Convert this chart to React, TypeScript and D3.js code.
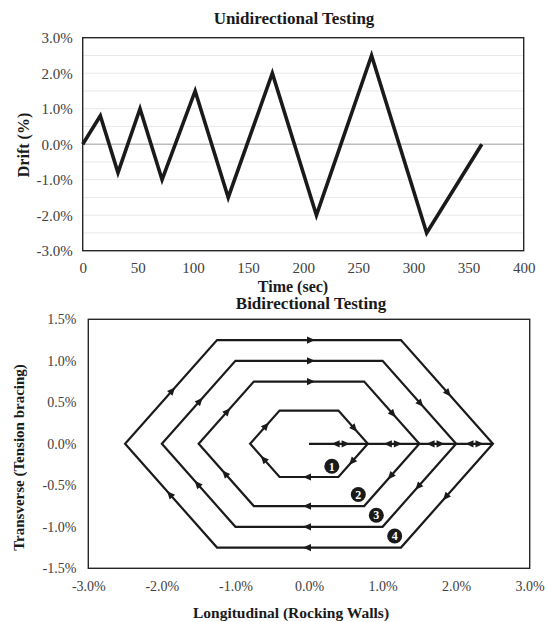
import React, { useRef, useEffect } from "react";
import * as d3 from "d3";

// unidirectional protocol
const timeSec = [0, 16, 32, 52, 72, 102, 132, 172, 212, 262, 312, 362];
const driftPct = [0, 0.8, -0.8, 1.0, -1.0, 1.5, -1.5, 2.0, -2.0, 2.5, -2.5, 0];
const timeTicks = [0, 50, 100, 150, 200, 250, 300, 350, 400];
const driftTicks = [-3, -2, -1, 0, 1, 2, 3];
const driftGrid = [-2.5, -2, -1.5, -1, -0.5, 0.5, 1, 1.5, 2, 2.5];

// bidirectional protocol (hexagonal loops)
const loopLong = [0.8, 1.5, 2.0, 2.5];
const loopTrans = [0.4, 0.75, 1.0, 1.25];
const loopNames = ["1", "2", "3", "4"];
const loopLabelLong = [0.31, 0.67, 0.915, 1.165];
const loopLabelTrans = [-0.27, -0.61, -0.86, -1.11];
// which edges of each loop carry a direction arrow (0 = lower right, going round)
const loopArrowEdges = [
  [0, 1, 2, 3, 5],
  [0, 1, 2, 3, 4, 5],
  [0, 1, 2, 3, 4, 5],
  [0, 1, 2, 3, 4, 5],
];
const pushPullLong = [0.43, 1.14, 1.72, 2.25];
const longTicks = [-3, -2, -1, 0, 1, 2, 3];
const transTicks = [-1.5, -1, -0.5, 0, 0.5, 1, 1.5];

const FONT = "'Liberation Serif', 'Times New Roman', serif";
const INK = "#1a1a1a";
const pct = (d: number) => d.toFixed(1) + "%";
const arrowD = "M0,0L-8,-3.6L-8,3.6Z";

const App = () => {
  const svgRef = useRef<SVGSVGElement>(null);

  useEffect(() => {
    const svg = d3.select(svgRef.current);
    svg.selectAll("*").remove();
    svg.style("font-family", FONT);

    // ---------- top chart ----------
    const x1 = d3.scaleLinear().domain([0, 400]).range([82.7, 523.7]);
    const y1 = d3.scaleLinear().domain([-3, 3]).range([250.7, 37.7]);
    const top = svg.append("g");

    top
      .selectAll(".grid")
      .data(driftGrid)
      .enter()
      .append("line")
      .attr("x1", x1(0))
      .attr("x2", x1(400))
      .attr("y1", (d) => y1(d))
      .attr("y2", (d) => y1(d))
      .attr("stroke", "#e8e8e8")
      .attr("stroke-width", 1);

    top
      .append("line")
      .attr("x1", x1(0))
      .attr("x2", x1(400))
      .attr("y1", y1(0))
      .attr("y2", y1(0))
      .attr("stroke", "#bdbdbd")
      .attr("stroke-width", 1.5);

    top
      .append("rect")
      .attr("x", x1(0))
      .attr("y", y1(3))
      .attr("width", x1(400) - x1(0))
      .attr("height", y1(-3) - y1(3))
      .attr("fill", "none")
      .attr("stroke", "#262626")
      .attr("stroke-width", 1.4);

    const line = d3
      .line<number>()
      .x((d, i) => x1(timeSec[i]))
      .y((d) => y1(d));

    top
      .append("path")
      .datum(driftPct)
      .attr("d", line)
      .attr("fill", "none")
      .attr("stroke", INK)
      .attr("stroke-width", 3.6)
      .attr("stroke-linejoin", "miter");

    const xAxis1 = top
      .append("g")
      .attr("transform", `translate(0,${y1(-3)})`)
      .call(d3.axisBottom(x1).tickValues(timeTicks).tickSize(0).tickPadding(12));
    const yAxis1 = top
      .append("g")
      .attr("transform", `translate(${x1(0)},0)`)
      .call(d3.axisLeft(y1).tickValues(driftTicks).tickSize(0).tickPadding(10).tickFormat(pct));
    [xAxis1, yAxis1].forEach((a) => {
      a.select(".domain").remove();
      a.selectAll("text")
        .attr("fill", "#404040")
        .style("font-family", FONT)
        .style("font-size", "15px");
    });

    top
      .append("text")
      .attr("x", 294)
      .attr("y", 24)
      .attr("text-anchor", "middle")
      .attr("font-weight", "bold")
      .attr("font-size", 17)
      .attr("fill", INK)
      .text("Unidirectional Testing");

    top
      .append("text")
      .attr("x", 293)
      .attr("y", 292)
      .attr("text-anchor", "middle")
      .attr("font-weight", "bold")
      .attr("font-size", 16)
      .attr("fill", INK)
      .text("Time (sec)");

    top
      .append("text")
      .attr("transform", `translate(29,145) rotate(-90)`)
      .attr("text-anchor", "middle")
      .attr("font-weight", "bold")
      .attr("font-size", 16)
      .attr("fill", INK)
      .text("Drift (%)");

    // ---------- bottom chart ----------
    const x2 = d3.scaleLinear().domain([-3, 3]).range([88.3, 529.7]);
    const y2 = d3.scaleLinear().domain([-1.5, 1.5]).range([568.3, 319.3]);
    const bot = svg.append("g");

    bot
      .append("rect")
      .attr("x", x2(-3))
      .attr("y", y2(1.5))
      .attr("width", x2(3) - x2(-3))
      .attr("height", y2(-1.5) - y2(1.5))
      .attr("fill", "none")
      .attr("stroke", "#262626")
      .attr("stroke-width", 1.4);

    const hex = (a: number, b: number) => [
      [a, 0],
      [a / 2, -b],
      [-a / 2, -b],
      [-a, 0],
      [-a / 2, b],
      [a / 2, b],
    ];

    const hexLine = d3
      .line<number[]>()
      .x((d) => x2(d[0]))
      .y((d) => y2(d[1]))
      .curve(d3.curveLinearClosed);

    const drawArrow = (px: number, py: number, ang: number) => {
      bot
        .append("path")
        .attr("d", arrowD)
        .attr("fill", INK)
        .attr("transform", `translate(${px},${py}) rotate(${ang})`);
    };

    // push-pull line along the longitudinal axis
    bot
      .append("line")
      .attr("x1", x2(0))
      .attr("x2", x2(loopLong[loopLong.length - 1]))
      .attr("y1", y2(0))
      .attr("y2", y2(0))
      .attr("stroke", INK)
      .attr("stroke-width", 2.2);

    loopLong.forEach((a, k) => {
      const pts = hex(a, loopTrans[k]);
      bot
        .append("path")
        .datum(pts)
        .attr("d", hexLine)
        .attr("fill", "none")
        .attr("stroke", INK)
        .attr("stroke-width", 2.2)
        .attr("stroke-linejoin", "miter");

      loopArrowEdges[k].forEach((e) => {
        const p = pts[e];
        const q = pts[(e + 1) % pts.length];
        const px0 = x2(p[0]), py0 = y2(p[1]);
        const px1 = x2(q[0]), py1 = y2(q[1]);
        const ang = Math.atan2(py1 - py0, px1 - px0);
        const mx = (px0 + px1) / 2 + Math.cos(ang) * 6;
        const my = (py0 + py1) / 2 + Math.sin(ang) * 6;
        drawArrow(mx, my, (ang * 180) / Math.PI);
      });
    });

    pushPullLong.forEach((c) => {
      drawArrow(x2(c) - 9, y2(0), 180);
      drawArrow(x2(c) + 9, y2(0), 0);
    });

    loopNames.forEach((n, k) => {
      const cx = x2(loopLabelLong[k]);
      const cy = y2(loopLabelTrans[k]);
      bot.append("circle").attr("cx", cx).attr("cy", cy).attr("r", 7.5).attr("fill", INK);
      bot
        .append("text")
        .attr("x", cx)
        .attr("y", cy + 4.3)
        .attr("text-anchor", "middle")
        .attr("font-weight", "bold")
        .attr("font-size", 12)
        .attr("fill", "#fff")
        .text(n);
    });

    const xAxis2 = bot
      .append("g")
      .attr("transform", `translate(0,${y2(-1.5)})`)
      .call(d3.axisBottom(x2).tickValues(longTicks).tickSize(0).tickPadding(13).tickFormat(pct));
    const yAxis2 = bot
      .append("g")
      .attr("transform", `translate(${x2(-3)},0)`)
      .call(d3.axisLeft(y2).tickValues(transTicks).tickSize(0).tickPadding(12).tickFormat(pct));
    [xAxis2, yAxis2].forEach((a) => {
      a.select(".domain").remove();
      a.selectAll("text")
        .attr("fill", "#404040")
        .style("font-family", FONT)
        .style("font-size", "14px");
    });

    bot
      .append("text")
      .attr("x", 311)
      .attr("y", 309)
      .attr("text-anchor", "middle")
      .attr("font-weight", "bold")
      .attr("font-size", 17)
      .attr("fill", INK)
      .text("Bidirectional Testing");

    bot
      .append("text")
      .attr("x", 291)
      .attr("y", 618)
      .attr("text-anchor", "middle")
      .attr("font-weight", "bold")
      .attr("font-size", 15.5)
      .attr("fill", INK)
      .text("Longitudinal (Rocking Walls)");

    bot
      .append("text")
      .attr("transform", `translate(23.5,457.5) rotate(-90)`)
      .attr("text-anchor", "middle")
      .attr("font-weight", "bold")
      .attr("font-size", 15)
      .attr("fill", INK)
      .text("Transverse (Tension bracing)");
  }, []);

  return (
    <svg
      ref={svgRef}
      width={547}
      height={622}
      style={{ position: "absolute", left: 0, top: 0, background: "#fff" }}
    />
  );
};

export default App;
